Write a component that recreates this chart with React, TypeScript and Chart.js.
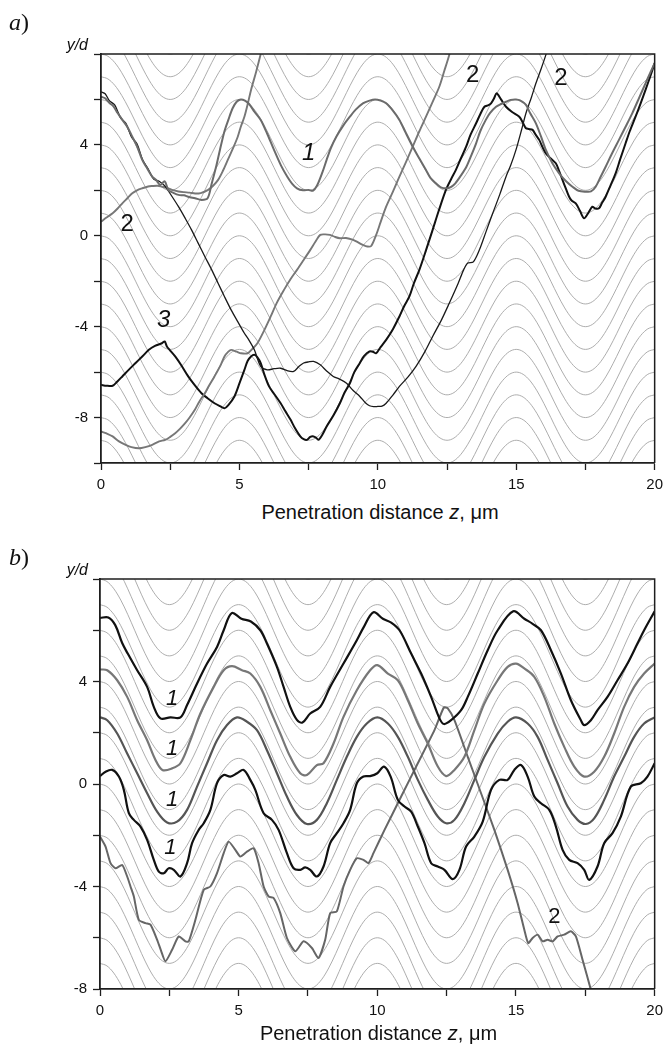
import React, { useEffect, useRef } from 'react';
import { Chart, registerables } from 'chart.js';

Chart.register(...registerables);

type Pt = [number, number];

// ---------- shared axis data ----------
const zMin = 0;
const zMax = 20;
const zStep = 2.5;
const zLabelEvery = 5;
const xTitle = 'Penetration distance ';
const xTitleVar = 'z';
const xTitleUnit = ', μm';
const yTitle = 'y/d';

// one period (5 µm, sampled every 0.25 µm) of the guiding trajectories
const fieldStepZ = 0.25;
const fieldPeriods = 4;
const fieldProfile = [2, 1.902, 1.618, 1.176, 0.618, 0, -0.618, -1.176, -1.618, -1.902, -2, -1.902, -1.618, -1.176, -0.618, 0, 0.618, 1.176, 1.618, 1.902];

// ---------- panel a ----------
const aYMin = -10;
const aYMax = 8;
const aYLabels = [4, 0, -4, -8];
const aFieldOffsets = [-12, -11, -10, -9, -8, -7, -6, -5, -4, -3, -2, -1, 0, 1, 2, 3, 4, 5, 6, 7, 8, 9, 10];

const aCurve1: Pt[] = [[0, 6.12], [0.15, 6.05], [0.3, 5.85], [0.45, 5.7], [0.6, 5.4], [0.77, 5.1], [0.95, 4.8], [1.13, 4.36], [1.3, 3.95], [1.49, 3.34], [1.65, 3.0], [1.85, 2.6], [2.0, 2.45], [2.14, 2.24], [2.3, 2.4], [2.44, 2.0], [2.6, 1.9], [2.8, 1.8], [3.0, 1.78], [3.15, 1.72], [3.4, 1.65], [3.63, 1.58], [3.85, 1.65], [4.0, 2.3], [4.15, 3.0], [4.3, 3.8], [4.46, 4.6], [4.6, 5.1], [4.75, 5.6], [4.9, 5.9], [5.05, 6.0], [5.2, 5.95], [5.35, 5.8], [5.55, 5.45], [5.77, 5.1], [6.0, 4.5], [6.25, 3.78], [6.5, 3.1], [6.73, 2.6], [6.9, 2.3], [7.08, 2.09], [7.3, 2.0], [7.5, 2.02], [7.65, 1.98], [7.8, 2.2], [8.0, 2.8], [8.15, 3.34], [8.3, 3.85], [8.5, 4.36], [8.75, 4.85], [8.99, 5.24], [9.2, 5.55], [9.46, 5.83], [9.7, 5.95], [9.9, 6.0], [10.1, 5.95], [10.3, 5.83], [10.55, 5.5], [10.78, 5.1], [11.0, 4.55], [11.26, 3.92], [11.5, 3.4], [11.74, 2.9], [11.9, 2.55], [12.1, 2.31], [12.3, 2.12], [12.52, 2.09], [12.65, 2.15], [12.8, 2.31], [13.0, 2.65], [13.2, 3.04], [13.38, 3.55], [13.55, 4.07], [13.7, 4.6], [13.9, 5.1], [14.05, 5.4], [14.27, 5.68], [14.45, 5.8], [14.63, 5.9], [14.8, 5.98], [14.99, 6.0], [15.15, 5.95], [15.35, 5.76], [15.5, 5.4], [15.71, 4.95], [15.9, 4.35], [16.07, 3.78], [16.3, 3.2], [16.55, 2.75], [16.8, 2.4], [17.03, 2.16], [17.25, 1.98], [17.5, 1.94], [17.7, 1.95], [17.87, 2.16], [18.05, 2.6], [18.23, 3.04], [18.45, 3.6], [18.71, 4.22], [18.95, 4.8], [19.19, 5.39], [19.45, 6.1], [19.67, 6.71], [19.85, 7.2], [20, 7.6]];

const aCurve2Thin: Pt[] = [[0, 6.34], [0.15, 6.25], [0.3, 5.95], [0.5, 5.75], [0.7, 5.2], [0.9, 4.95], [1.1, 4.35], [1.3, 4.05], [1.5, 3.35], [1.7, 2.95], [1.9, 2.5], [2.1, 2.4], [2.3, 2.2], [2.5, 1.85], [2.8, 1.28], [3.05, 0.75], [3.27, 0.26], [3.5, -0.3], [3.75, -0.91], [4.0, -1.5], [4.23, -2.09], [4.45, -2.65], [4.7, -3.26], [4.95, -3.8], [5.18, -4.29], [5.35, -4.6], [5.54, -5.02], [5.77, -5.75], [6.01, -5.9], [6.25, -5.85], [6.49, -5.83], [6.75, -5.95], [6.96, -5.97], [7.15, -5.75], [7.32, -5.6], [7.5, -5.55], [7.68, -5.53], [7.92, -5.68], [8.15, -5.95], [8.39, -6.19], [8.6, -6.3], [8.87, -6.49], [9.1, -6.8], [9.35, -7.07], [9.55, -7.35], [9.7, -7.48], [9.85, -7.52], [10.0, -7.51], [10.15, -7.5], [10.3, -7.37], [10.55, -7.0], [10.78, -6.63], [11.1, -6.2], [11.38, -5.75], [11.7, -5.1], [11.98, -4.43], [12.3, -3.7], [12.58, -2.97], [12.9, -2.1], [13.1, -1.5], [13.25, -1.2], [13.45, -1.15], [13.67, -0.62], [13.9, 0.15], [14.15, 0.99], [14.4, 1.8], [14.63, 2.6], [14.8, 3.1], [14.99, 3.78], [15.2, 4.7], [15.35, 5.39], [15.55, 6.1], [15.71, 6.71], [15.9, 7.35], [16.07, 7.96], [16.15, 8.3]];

const aCurve2GrayLeft: Pt[] = [[0, 0.62], [0.2, 0.8], [0.42, 0.99], [0.6, 1.2], [0.77, 1.43], [0.95, 1.65], [1.13, 1.87], [1.3, 2.0], [1.49, 2.09], [1.7, 2.17], [1.85, 2.19], [2.05, 2.2], [2.2, 2.16], [2.4, 2.1], [2.56, 2.02], [2.8, 1.95], [3.0, 1.92], [3.2, 1.9], [3.4, 1.86], [3.6, 1.88], [3.87, 2.02], [4.05, 2.2], [4.23, 2.46], [4.4, 2.85], [4.58, 3.34], [4.75, 3.8], [4.94, 4.36], [5.05, 4.8], [5.18, 5.24], [5.3, 5.8], [5.42, 6.42], [5.6, 7.2], [5.77, 8.0], [5.85, 8.4]];

const aCurve2GrayBottom: Pt[] = [[0, -8.61], [0.2, -8.7], [0.42, -8.83], [0.65, -9.05], [0.89, -9.2], [1.1, -9.3], [1.37, -9.35], [1.6, -9.3], [1.85, -9.2], [2.1, -9.05], [2.32, -8.98], [2.5, -8.85], [2.68, -8.69], [2.85, -8.5], [3.04, -8.25], [3.2, -8.0], [3.39, -7.66], [3.55, -7.3], [3.75, -6.93], [3.9, -6.6], [4.1, -6.19], [4.3, -5.75], [4.46, -5.31], [4.6, -5.1], [4.7, -5.02], [4.9, -5.1], [5.06, -5.17], [5.3, -5.17], [5.45, -5.0], [5.65, -4.73], [5.9, -4.15], [6.13, -3.55], [6.35, -2.95], [6.61, -2.38], [6.85, -1.9], [7.08, -1.5], [7.3, -1.1], [7.56, -0.62], [7.75, -0.25], [7.92, 0.04], [8.1, 0.06], [8.27, 0.04], [8.45, -0.05], [8.63, -0.11], [8.85, -0.1], [9.11, -0.18], [9.3, -0.3], [9.46, -0.4], [9.62, -0.47], [9.76, -0.45], [9.94, 0.04], [10.1, 0.6], [10.3, 1.28], [10.55, 1.95], [10.78, 2.6], [11.0, 3.2], [11.26, 3.92], [11.5, 4.6], [11.74, 5.24], [12.0, 5.95], [12.22, 6.56], [12.4, 7.25], [12.58, 7.96], [12.65, 8.3]];

const aCurve3: Pt[] = [[0, -6.56], [0.2, -6.6], [0.42, -6.6], [0.6, -6.4], [0.77, -6.19], [1.0, -5.9], [1.25, -5.6], [1.5, -5.3], [1.73, -5.02], [1.95, -4.85], [2.2, -4.73], [2.3, -4.65], [2.38, -4.87], [2.5, -5.05], [2.68, -5.31], [2.9, -5.7], [3.15, -6.19], [3.4, -6.6], [3.63, -6.93], [3.85, -7.15], [4.1, -7.37], [4.3, -7.5], [4.46, -7.59], [4.6, -7.45], [4.82, -7.07], [5.0, -6.5], [5.18, -5.9], [5.3, -5.5], [5.42, -5.31], [5.54, -5.24], [5.65, -5.35], [5.77, -5.6], [5.9, -6.1], [6.07, -6.63], [6.25, -6.95], [6.49, -7.37], [6.65, -7.7], [6.85, -8.1], [7.0, -8.45], [7.2, -8.83], [7.32, -8.95], [7.44, -8.98], [7.56, -8.85], [7.68, -8.83], [7.78, -8.9], [7.86, -8.98], [8.0, -8.75], [8.15, -8.39], [8.4, -7.9], [8.63, -7.37], [8.8, -6.9], [8.99, -6.49], [9.15, -6.0], [9.35, -5.6], [9.5, -5.3], [9.7, -5.09], [9.82, -5.1], [9.94, -5.17], [10.1, -4.9], [10.3, -4.58], [10.55, -4.1], [10.78, -3.55], [10.95, -3.1], [11.14, -2.67], [11.3, -2.1], [11.5, -1.5], [11.75, -0.6], [11.98, 0.26], [12.2, 1.1], [12.46, 2.02], [12.65, 2.5], [12.82, 2.9], [13.0, 3.4], [13.19, 3.92], [13.35, 4.45], [13.55, 4.95], [13.7, 5.35], [13.85, 5.68], [14.0, 5.75], [14.09, 5.83], [14.2, 6.05], [14.29, 6.27], [14.45, 6.0], [14.63, 5.68], [14.85, 5.45], [15.11, 5.24], [15.25, 4.95], [15.35, 4.73], [15.45, 4.7], [15.59, 4.66], [15.7, 4.45], [15.83, 4.22], [15.95, 3.9], [16.07, 3.63], [16.25, 3.4], [16.43, 3.19], [16.55, 2.85], [16.67, 2.46], [16.8, 2.05], [16.91, 1.72], [17.0, 1.55], [17.15, 1.43], [17.3, 1.1], [17.45, 0.77], [17.6, 1.0], [17.75, 1.28], [17.85, 1.2], [17.99, 1.21], [18.1, 1.45], [18.23, 1.72], [18.4, 2.2], [18.59, 2.75], [18.75, 3.35], [18.95, 4.07], [19.1, 4.6], [19.31, 5.24], [19.5, 5.85], [19.67, 6.42], [19.85, 7.05], [20, 7.6]];

const aLabelTexts = ['1', '2', '3', '2', '2'];
const aLabelZ = [7.5, 0.95, 2.26, 13.43, 16.61];
const aLabelY = [3.63, 0.48, -3.7, 7.08, 6.93];
const aLabelItalic = [true, false, true, false, false];

// ---------- panel b ----------
const bYMin = -8;
const bYMax = 8;
const bYLabels = [4, 0, -4, -8];
const bFieldOffsets = [-10, -9, -8, -7, -6, -5, -4, -3, -2, -1, 0, 1, 2, 3, 4, 5, 6, 7, 8, 9, 10];

const bCurve1Top: Pt[] = [[0, 6.48], [0.3, 6.5], [0.55, 6.2], [0.8, 5.5], [1.0, 5.09], [1.34, 4.44], [1.7, 3.79], [1.94, 3.01], [2.18, 2.56], [2.54, 2.6], [2.9, 2.6], [3.14, 3.08], [3.5, 3.92], [3.86, 4.7], [4.22, 5.35], [4.46, 6.0], [4.75, 6.67], [5.1, 6.45], [5.44, 6.34], [5.78, 6.0], [6.02, 5.48], [6.38, 4.57], [6.62, 3.79], [6.86, 3.01], [7.1, 2.5], [7.3, 2.4], [7.58, 2.75], [7.94, 3.01], [8.3, 3.79], [8.78, 4.7], [9.26, 5.61], [9.5, 6.1], [9.86, 6.7], [10.2, 6.45], [10.5, 6.3], [10.8, 6.0], [11.22, 5.09], [11.58, 4.31], [11.94, 3.4], [12.24, 2.56], [12.4, 2.34], [12.66, 2.49], [13.02, 2.88], [13.26, 3.4], [13.62, 4.31], [13.98, 5.22], [14.34, 6.0], [14.9, 6.74], [15.3, 6.45], [15.6, 6.25], [15.9, 6.0], [16.26, 5.22], [16.62, 4.31], [16.98, 3.27], [17.34, 2.49], [17.46, 2.3], [17.7, 2.49], [17.94, 2.88], [18.3, 3.4], [18.66, 4.05], [19.02, 4.7], [19.38, 5.48], [19.62, 6.0], [20, 6.74]];

const bCurve1Second: Pt[] = [[0, 4.47], [0.26, 4.44], [0.62, 4.05], [0.98, 3.4], [1.34, 2.49], [1.7, 1.71], [2.0, 0.94], [2.25, 0.55], [2.6, 0.61], [2.9, 0.81], [3.26, 1.71], [3.62, 2.75], [4.1, 3.79], [4.46, 4.44], [4.76, 4.6], [5.12, 4.44], [5.42, 4.31], [5.78, 3.79], [6.14, 2.88], [6.5, 1.97], [6.86, 1.06], [7.22, 0.42], [7.46, 0.35], [7.82, 0.74], [8.06, 0.81], [8.42, 1.58], [8.78, 2.62], [9.26, 3.66], [9.74, 4.44], [10.0, 4.64], [10.38, 4.31], [10.74, 4.05], [11.1, 3.27], [11.46, 2.36], [11.82, 1.58], [12.18, 0.68], [12.48, 0.31], [12.78, 0.55], [13.14, 1.06], [13.5, 2.1], [13.86, 3.14], [14.34, 4.05], [14.7, 4.57], [15.0, 4.7], [15.3, 4.51], [15.66, 4.18], [16.02, 3.4], [16.38, 2.36], [16.74, 1.45], [17.1, 0.68], [17.46, 0.29], [17.82, 0.48], [18.18, 1.06], [18.54, 1.97], [18.9, 3.01], [19.26, 3.79], [19.62, 4.31], [20, 4.7]];

const bCurve1Third: Pt[] = [[0, 2.6], [0.26, 2.49], [0.62, 1.97], [0.98, 1.19], [1.34, 0.42], [1.7, -0.36], [2.06, -1.08], [2.42, -1.5], [2.78, -1.47], [3.14, -1.01], [3.5, -0.1], [3.86, 0.81], [4.22, 1.71], [4.58, 2.3], [4.94, 2.6], [5.3, 2.43], [5.66, 2.1], [6.02, 1.32], [6.38, 0.42], [6.74, -0.49], [7.1, -1.21], [7.46, -1.56], [7.82, -1.4], [8.18, -0.75], [8.54, 0.16], [8.9, 1.06], [9.26, 1.84], [9.62, 2.36], [10.0, 2.6], [10.38, 2.36], [10.74, 1.84], [11.1, 1.06], [11.46, 0.16], [11.82, -0.62], [12.18, -1.27], [12.48, -1.53], [12.78, -1.4], [13.14, -0.75], [13.5, 0.16], [13.86, 1.06], [14.34, 1.97], [14.7, 2.43], [15.0, 2.6], [15.42, 2.36], [15.78, 1.84], [16.14, 0.94], [16.5, 0.03], [16.86, -0.88], [17.22, -1.4], [17.52, -1.56], [17.82, -1.34], [18.18, -0.62], [18.54, 0.29], [18.9, 1.06], [19.26, 1.84], [19.62, 2.36], [20, 2.6]];

const bCurve1Fourth: Pt[] = [[0, 0.31], [0.2, 0.48], [0.44, 0.55], [0.68, 0.29], [0.86, -0.23], [1.04, -1.14], [1.22, -1.4], [1.46, -1.66], [1.7, -2.18], [1.94, -2.96], [2.12, -3.42], [2.3, -3.48], [2.48, -3.29], [2.66, -3.35], [2.9, -3.61], [3.14, -3.09], [3.32, -2.31], [3.56, -1.79], [3.74, -1.53], [3.98, -1.01], [4.22, 0.03], [4.46, 0.35], [4.7, 0.29], [4.94, 0.42], [5.18, 0.55], [5.42, 0.16], [5.6, -0.23], [5.9, -1.14], [6.2, -1.4], [6.44, -1.79], [6.74, -2.7], [6.98, -3.29], [7.22, -3.35], [7.4, -3.25], [7.58, -3.35], [7.82, -3.61], [8.06, -3.22], [8.3, -2.31], [8.54, -1.92], [8.78, -1.53], [9.02, -1.01], [9.26, 0.03], [9.5, 0.29], [9.74, 0.31], [10.0, 0.42], [10.24, 0.68], [10.48, 0.29], [10.74, -0.62], [10.98, -0.88], [11.22, -1.08], [11.46, -1.66], [11.7, -2.31], [11.94, -3.09], [12.18, -3.22], [12.42, -3.35], [12.72, -3.71], [12.96, -3.35], [13.2, -2.44], [13.5, -2.05], [13.8, -1.47], [14.1, -0.23], [14.4, 0.16], [14.7, 0.16], [14.94, 0.55], [15.18, 0.74], [15.42, 0.29], [15.66, -0.49], [15.9, -0.75], [16.2, -1.01], [16.44, -1.66], [16.68, -2.57], [16.92, -2.96], [17.22, -3.09], [17.46, -3.35], [17.64, -3.74], [17.94, -3.22], [18.18, -2.31], [18.48, -1.92], [18.78, -1.27], [19.14, -0.1], [19.5, 0.03], [19.74, 0.29], [20, 0.81]];

const bCurve2: Pt[] = [[0, -2.05], [0.2, -2.44], [0.38, -3.09], [0.56, -3.29], [0.8, -3.16], [0.98, -3.61], [1.1, -4.0], [1.22, -4.39], [1.4, -5.3], [1.64, -5.43], [1.82, -5.49], [2.06, -6.08], [2.2, -6.5], [2.36, -6.92], [2.6, -6.47], [2.84, -5.95], [3.08, -6.14], [3.2, -6.14], [3.44, -5.3], [3.74, -4.13], [3.98, -4.0], [4.22, -3.48], [4.46, -2.7], [4.64, -2.25], [4.88, -2.57], [5.06, -2.83], [5.3, -2.64], [5.54, -2.51], [5.72, -3.09], [5.9, -4.0], [6.08, -4.39], [6.26, -4.45], [6.5, -5.04], [6.74, -6.01], [7.04, -6.53], [7.34, -6.14], [7.64, -6.4], [7.88, -6.79], [8.12, -6.08], [8.3, -5.04], [8.54, -4.97], [8.78, -4.0], [9.02, -3.35], [9.26, -2.9], [9.5, -2.96], [9.68, -3.09], [9.86, -2.7], [10.26, -1.79], [10.86, -0.49], [11.46, 0.81], [12.06, 2.1], [12.4, 2.99], [12.54, 2.95], [12.78, 2.49], [13.26, 1.06], [13.74, -0.36], [14.22, -1.79], [14.7, -3.35], [15.06, -4.65], [15.3, -5.69], [15.44, -6.21], [15.6, -6.01], [15.78, -5.88], [15.96, -6.14], [16.14, -6.08], [16.32, -6.14], [16.5, -5.95], [16.74, -5.88], [16.98, -5.75], [17.16, -5.95], [17.4, -6.86], [17.7, -8.03], [17.75, -8.3]];

const bLabelTexts = ['1', '1', '1', '1', '2'];
const bLabelZ = [2.6, 2.6, 2.6, 2.54, 16.38];
const bLabelY = [3.34, 1.39, -0.62, -2.5, -5.17];
const bLabelItalic = [true, true, true, true, false];

// ---------- chart helpers ----------
const FONT = '"Liberation Sans", Arial, Helvetica, sans-serif';
const AXIS = '#1e1e1e';

interface CurveSpec { pts: Pt[]; color: string; width: number; tension: number; }

function fieldDatasets(offsets: number[]) {
  const n = fieldProfile.length * fieldPeriods + 1;
  return offsets.map((c) => ({
    data: Array.from({ length: n }, (_, k) => ({ x: k * fieldStepZ, y: c + fieldProfile[k % fieldProfile.length] })),
    borderColor: '#a4a4a4',
    borderWidth: 0.9,
    pointRadius: 0,
    cubicInterpolationMode: 'monotone',
    order: 10,
    clip: 0,
  }));
}

function curveDatasets(curves: CurveSpec[]) {
  return curves.map((c) => ({
    data: c.pts.map(([x, y]) => ({ x, y })),
    borderColor: c.color,
    borderWidth: c.width,
    tension: c.tension,
    pointRadius: 0,
    order: 0,
    clip: 0,
  }));
}

const framePlugin = {
  id: 'frameTopRight',
  afterDatasetsDraw(chart: any) {
    const { ctx, chartArea: a } = chart;
    ctx.save();
    ctx.strokeStyle = AXIS;
    ctx.lineWidth = 1.5;
    ctx.beginPath();
    ctx.moveTo(a.left, a.top);
    ctx.lineTo(a.right, a.top);
    ctx.lineTo(a.right, a.bottom);
    ctx.stroke();
    ctx.restore();
  },
};

function labelPlugin(texts: string[], zs: number[], ys: number[], italic: boolean[], size: number) {
  return {
    id: 'curveLabels',
    afterDatasetsDraw(chart: any) {
      const { ctx } = chart;
      const xs = chart.scales.x;
      const yS = chart.scales.y;
      ctx.save();
      ctx.fillStyle = '#111';
      ctx.textAlign = 'center';
      ctx.textBaseline = 'middle';
      texts.forEach((t, i) => {
        ctx.font = `${italic[i] ? 'italic ' : ''}${size}px ${FONT}`;
        ctx.fillText(t, xs.getPixelForValue(zs[i]), yS.getPixelForValue(ys[i]));
      });
      ctx.restore();
    },
  };
}

interface PanelSpec {
  top: number;
  height: number;
  yAxisWidth: number;
  padRight: number;
  padTop: number;
  yMin: number;
  yMax: number;
  yLabels: number[];
  field: number[];
  curves: CurveSpec[];
  labels: any;
}

function Panel({ spec }: { spec: PanelSpec }) {
  const ref = useRef<HTMLCanvasElement>(null);
  useEffect(() => {
    const chart = new Chart(ref.current as HTMLCanvasElement, {
      type: 'line',
      data: { datasets: [...curveDatasets(spec.curves), ...fieldDatasets(spec.field)] as any },
      options: {
        animation: false,
        responsive: false,
        devicePixelRatio: 1,
        events: [],
        layout: { padding: { left: 0, right: spec.padRight, top: spec.padTop, bottom: 0 } },
        plugins: { legend: { display: false }, tooltip: { enabled: false } },
        scales: {
          x: {
            type: 'linear',
            min: zMin,
            max: zMax,
            afterFit: (s: any) => { s.height = 37; },
            border: { display: true, color: AXIS, width: 1.8, z: 1 },
            grid: { display: true, drawOnChartArea: false, drawTicks: true, tickLength: 7, tickColor: AXIS, tickWidth: 1.3 },
            ticks: {
              stepSize: zStep,
              autoSkip: false,
              maxRotation: 0,
              padding: 6,
              color: '#111',
              font: { family: FONT, size: 15 },
              callback: (v: any) => (Number(v) % zLabelEvery === 0 ? String(v) : ''),
            },
          },
          y: {
            type: 'linear',
            min: spec.yMin,
            max: spec.yMax,
            afterFit: (s: any) => { s.width = spec.yAxisWidth; },
            border: { display: true, color: AXIS, width: 1.8, z: 1 },
            grid: { display: true, drawOnChartArea: false, drawTicks: true, tickLength: 7, tickColor: AXIS, tickWidth: 1.3 },
            ticks: {
              stepSize: 2,
              autoSkip: false,
              padding: 6,
              color: '#111',
              font: { family: FONT, size: 15 },
              callback: (v: any) => (spec.yLabels.includes(Number(v)) ? String(v) : ''),
            },
          },
        },
      } as any,
      plugins: [framePlugin, spec.labels],
    });
    return () => chart.destroy();
  }, []);
  return (
    <canvas
      ref={ref}
      width={669}
      height={spec.height}
      style={{ position: 'absolute', left: 0, top: spec.top, width: 669, height: spec.height }}
    />
  );
}

const panelA: PanelSpec = {
  top: 0,
  height: 500,
  yAxisWidth: 101,
  padRight: 10,
  padTop: 54,
  yMin: aYMin,
  yMax: aYMax,
  yLabels: aYLabels,
  field: aFieldOffsets,
  curves: [
    { pts: aCurve1, color: '#6b6b6b', width: 2, tension: 0.3 },
    { pts: aCurve2Thin, color: '#1a1a1a', width: 1.3, tension: 0.3 },
    { pts: aCurve2GrayLeft, color: '#777777', width: 1.9, tension: 0.3 },
    { pts: aCurve2GrayBottom, color: '#777777', width: 1.9, tension: 0.3 },
    { pts: aCurve3, color: '#111111', width: 2, tension: 0.3 },
  ],
  labels: labelPlugin(aLabelTexts, aLabelZ, aLabelY, aLabelItalic, 24),
};

const panelB: PanelSpec = {
  top: 525,
  height: 501,
  yAxisWidth: 100,
  padRight: 12,
  padTop: 54,
  yMin: bYMin,
  yMax: bYMax,
  yLabels: bYLabels,
  field: bFieldOffsets,
  curves: [
    { pts: bCurve1Top, color: '#111111', width: 2.2, tension: 0.35 },
    { pts: bCurve1Second, color: '#777777', width: 2.2, tension: 0.35 },
    { pts: bCurve1Third, color: '#555555', width: 2.2, tension: 0.35 },
    { pts: bCurve1Fourth, color: '#111111', width: 2.2, tension: 0.35 },
    { pts: bCurve2, color: '#666666', width: 2, tension: 0.2 },
  ],
  labels: labelPlugin(bLabelTexts, bLabelZ, bLabelY, bLabelItalic, 22),
};

const textBase: React.CSSProperties = { position: 'absolute', color: '#111', whiteSpace: 'nowrap' };

function XTitle({ top, left, width }: { top: number; left: number; width: number }) {
  return (
    <div style={{ ...textBase, top, left, width, textAlign: 'center', font: `20px ${FONT}`, lineHeight: '22px' }}>
      {xTitle}<i>{xTitleVar}</i>{xTitleUnit}
    </div>
  );
}

function PanelTag({ top, letter }: { top: number; letter: string }) {
  return (
    <div style={{ ...textBase, top, left: 9, font: '24px "Liberation Serif", "Times New Roman", serif', lineHeight: '24px' }}>
      <i>{letter}</i>)
    </div>
  );
}

function YTitle({ top }: { top: number }) {
  return (
    <div style={{ ...textBase, top, left: 0, width: 88, textAlign: 'right', font: `italic 16px ${FONT}`, lineHeight: '18px' }}>
      {yTitle}
    </div>
  );
}

export default function App() {
  return (
    <div style={{ position: 'absolute', left: 0, top: 0, width: 669, height: 1047, background: '#fff', overflow: 'hidden' }}>
      <Panel spec={panelA} />
      <Panel spec={panelB} />
      <PanelTag top={10} letter="a" />
      <YTitle top={36} />
      <XTitle top={501} left={101} width={558} />
      <PanelTag top={545} letter="b" />
      <YTitle top={561} />
      <XTitle top={1022} left={100} width={557} />
    </div>
  );
}
